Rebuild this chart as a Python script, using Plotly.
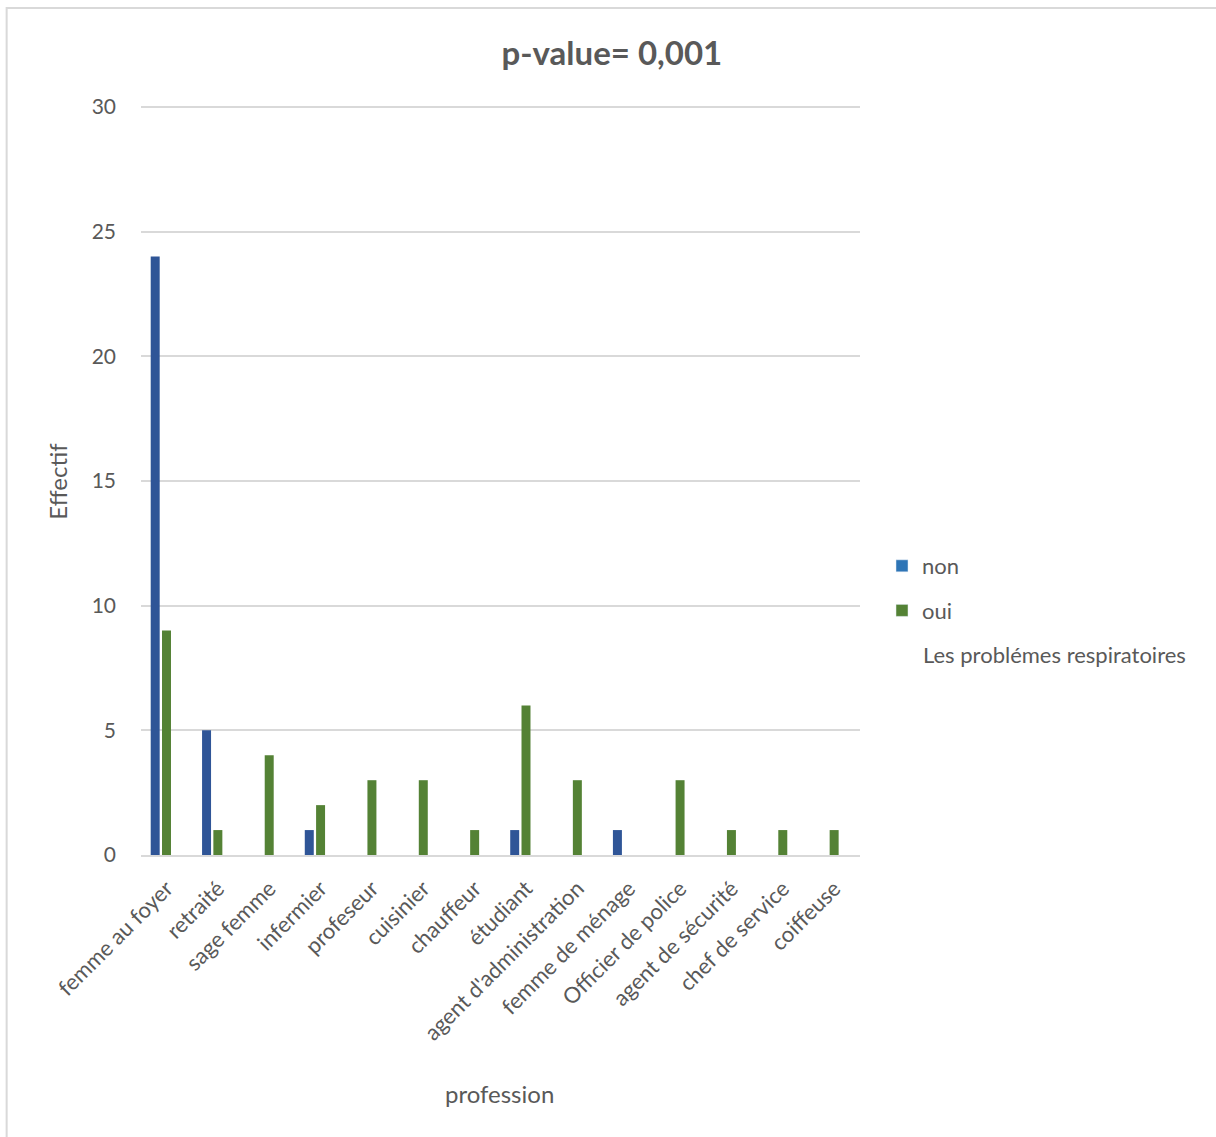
import plotly.graph_objects as go

categories = ["femme au foyer", "retraité", "sage femme", "infermier", "profeseur",
              "cuisinier", "chauffeur", "étudiant", "agent d'administration",
              "femme de ménage", "Officier de police", "agent de sécurité",
              "chef de service", "coiffeuse"]
non_values = [24, 5, None, 1, None, None, None, 1, None, 1, None, None, None, None]
oui_values = [9, 1, 4, 2, 3, 3, 1, 6, 3, None, 3, 1, 1, 1]
series_names = ["non", "oui"]
legend_title = "Les problémes respiratoires"
y_ticks = [0, 5, 10, 15, 20, 25, 30]

FONT = "Lato"
GRAY = "#595959"
BAR_BLUE = "#2F5597"
BAR_GREEN = "#548235"
LEG_BLUE = "#2E75B6"
LEG_GREEN = "#548235"

W, H = 1216, 1137
YMAX = 30.08
L, R, B = 141.3, 860, 855
T = B - (B - 107) * YMAX / 30

def px_x(p):
    return (p - L) / (R - L)

def px_y(p):
    return (B - p) / (B - T)

xs = list(range(len(categories)))
fig = go.Figure()
# bars (clusters of 3 slots: non, oui, empty)
fig.add_trace(go.Bar(x=xs, y=non_values, marker=dict(color=BAR_BLUE, line=dict(width=0)),
                     width=0.175, offset=-0.311, showlegend=False, name=series_names[0]))
fig.add_trace(go.Bar(x=xs, y=oui_values, marker=dict(color=BAR_GREEN, line=dict(width=0)),
                     width=0.175, offset=-0.091, showlegend=False, name=series_names[1]))
# legend entries
fig.add_trace(go.Bar(x=[None], y=[None], marker=dict(color=LEG_BLUE), name=series_names[0],
                     legendgroup="a"))
fig.add_trace(go.Bar(x=[None], y=[None], marker=dict(color=LEG_GREEN), name=series_names[1],
                     legendgroup="b"))

fig.update_layout(
    width=W, height=H,
    margin=dict(l=L, r=W - R, t=T, b=H - B, pad=0),
    paper_bgcolor="white", plot_bgcolor="white",
    font=dict(family=FONT, color=GRAY, size=22),
    barmode="overlay",
    title=dict(text="<b>p-value= 0,001</b>", x=px_x(612), xref="paper", xanchor="center",
               y=1 - 53 / H, yref="container", yanchor="middle",
               font=dict(family=FONT, size=33, color=GRAY)),
    xaxis=dict(range=[-0.5, len(categories) - 0.5], tickmode="array", tickvals=xs,
               ticktext=categories, tickangle=-45, showgrid=False, zeroline=False,
               showline=True, linecolor="#D9D9D9", linewidth=2, ticks="",
               tickfont=dict(size=22, color=GRAY, family=FONT), ticklabelstandoff=10),
    yaxis=dict(range=[0, YMAX], tickmode="array", tickvals=y_ticks, showgrid=True,
               gridcolor="#D9D9D9", gridwidth=1.5, zeroline=False, showline=False, ticks="",
               tickfont=dict(size=21, color=GRAY, family=FONT), ticklabelstandoff=24),
    legend=dict(x=px_x(882), xanchor="left", y=px_y(545), yanchor="top",
                font=dict(size=22, color=GRAY, family=FONT), tracegroupgap=13,
                bgcolor="rgba(0,0,0,0)", itemclick=False),
    showlegend=True,
)

fig.add_annotation(text=legend_title, xref="paper", yref="paper", x=px_x(921), y=px_y(655),
                   xanchor="left", yanchor="middle", showarrow=False,
                   font=dict(size=22, color=GRAY, family=FONT))
fig.add_annotation(text="Effectif", xref="paper", yref="paper", x=px_x(58), y=px_y(481),
                   xanchor="center", yanchor="middle", textangle=-90, showarrow=False,
                   font=dict(size=24, color=GRAY, family=FONT))
fig.add_annotation(text="profession", xref="paper", yref="paper", x=px_x(500), y=px_y(1093),
                   xanchor="center", yanchor="middle", showarrow=False,
                   font=dict(size=24, color=GRAY, family=FONT))
# chart border
fig.add_shape(type="rect", xref="paper", yref="paper", x0=px_x(7), y0=px_y(1200),
              x1=px_x(1300), y1=px_y(8), line=dict(color="#D9D9D9", width=2),
              fillcolor="rgba(0,0,0,0)", layer="below")

fig.write_html("out.html")
